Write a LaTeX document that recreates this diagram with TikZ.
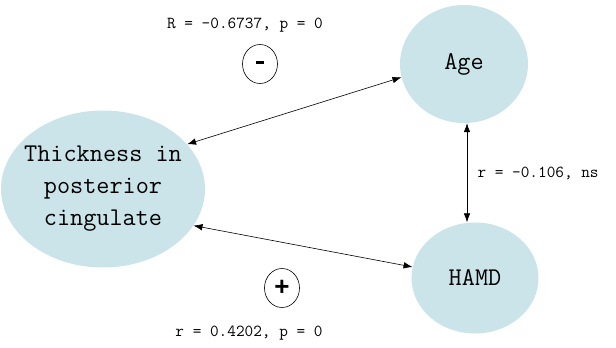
\documentclass[tikz,border=0pt]{standalone}
\usepackage{fontspec}
\setsansfont{Liberation Sans}
\usepackage{xcolor}
\usetikzlibrary{shapes.geometric,arrows.meta,positioning}
\definecolor{nodeblue}{RGB}{202,228,234}

\begin{document}
\begin{tikzpicture}[
    x=1pt, y=-1pt,
    var/.style={ellipse, fill=nodeblue, align=center, inner sep=0pt, font=\ttfamily\fontsize{25.5}{32}\selectfont},
    sign/.style={ellipse, draw, line width=0.6pt, minimum width=35pt, minimum height=39pt, inner sep=0pt, font=\sffamily\bfseries\fontsize{26}{26}\selectfont},
    stat/.style={font=\ttfamily\fontsize{16.8}{18}\selectfont},
    link/.style={{Latex[length=9pt,width=6.5pt]}-{Latex[length=9pt,width=6.5pt]}, line width=0.6pt}
]
\useasboundingbox (0,0) rectangle (616,348);

\node[var, inner xsep=-9pt, minimum width=204pt, minimum height=157pt] (thick) at (103,189) {Thickness in\\posterior\\cingulate};
\node[var, minimum width=128pt, minimum height=118pt] (age) at (464,64) {Age};
\node[var, minimum width=127pt, minimum height=111pt] (hamd) at (475,278) {HAMD};

\draw[link] (thick.28) -- (age.192);
\draw[link] (thick.-22) -- (hamd.170);
\draw[link] ([xshift=3pt]age.south) -- ([xshift=-8pt]hamd.north);

\node[stat] (rage) at (245,25) {R = -0.6737, p = 0};
\node[sign] (neg) at (260,64) {\raisebox{3pt}{\rule{8pt}{3.5pt}}};
\node[sign] (pos) at (282,288) {+};
\node[stat] (rhamd) at (249,333) {r = 0.4202, p = 0};
\node[stat, anchor=west] (rns) at (474,173) {r = -0.106, ns};

\end{tikzpicture}
\end{document}
